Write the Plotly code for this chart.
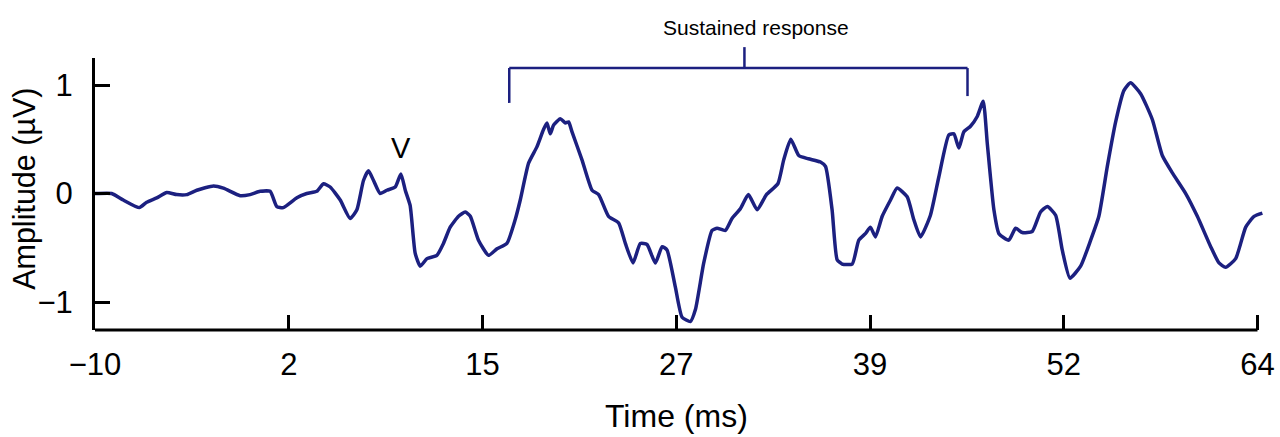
import plotly.graph_objects as go

# ---- data ----
time_ms = [-10.0, -9.89, -8.94, -8.20, -7.18, -6.71, -6.07, -5.43, -4.80, -4.16, -3.52, -2.46, -1.83,
           -0.76, -0.13, 0.51, 1.15, 1.57, 1.99, 2.85, 3.48, 4.12, 4.54, 4.97, 5.61, 6.24, 6.67,
           7.09, 7.41, 7.73, 8.15, 8.58, 9.11, 9.47, 9.75, 10.06, 10.38, 10.70, 11.13, 11.76,
           12.18, 12.61, 13.14, 13.57, 13.89, 14.41, 15.05, 15.59, 16.22, 16.75, 17.07, 17.60,
           18.13, 18.55, 18.77, 18.98, 19.19, 19.62, 19.94, 20.15, 20.36, 21.00, 21.64, 22.06,
           22.69, 23.33, 23.76, 24.25, 24.71, 25.14, 25.67, 26.10, 26.41, 26.94, 27.37, 27.90,
           28.22, 28.75, 29.28, 29.60, 30.13, 30.55, 31.08, 31.59, 32.15, 32.74, 33.47, 33.84,
           34.29, 34.80, 35.41, 36.18, 36.50, 36.92, 37.24, 37.56, 38.20, 38.62, 39.04, 39.36,
           39.68, 40.11, 40.64, 41.06, 41.70, 42.12, 42.55, 43.18, 43.71, 44.35, 44.67, 44.99,
           45.31, 45.73, 46.16, 46.54, 46.80, 47.22, 47.54, 48.17, 48.60, 49.03, 49.66, 50.19,
           50.62, 51.15, 51.57, 52.06, 52.74, 53.38, 53.90, 54.44, 54.97, 55.50, 55.92, 56.56,
           57.31, 57.94, 58.58, 59.43, 60.17, 61.02, 61.55, 61.97, 62.61, 63.25, 63.78, 64.31]
amplitude_uv = [0.00, 0.00, 0.00, -0.06, -0.13, -0.08, -0.04, 0.01, -0.01, -0.01, 0.03, 0.07, 0.05,
                -0.02, -0.01, 0.02, 0.02, -0.12, -0.13, -0.04, 0.00, 0.02, 0.09, 0.06, -0.06, -0.23, -0.15,
                0.12, 0.21, 0.12, 0.00, 0.03, 0.06, 0.18, 0.03, -0.11, -0.55, -0.67, -0.60, -0.57,
                -0.46, -0.31, -0.21, -0.17, -0.21, -0.43, -0.57, -0.51, -0.46, -0.24, -0.06, 0.28,
                0.43, 0.59, 0.65, 0.55, 0.63, 0.69, 0.65, 0.66, 0.57, 0.31, 0.03, -0.01,
                -0.21, -0.27, -0.46, -0.64, -0.46, -0.47, -0.64, -0.49, -0.52, -0.86, -1.14, -1.18,
                -1.07, -0.64, -0.34, -0.32, -0.34, -0.23, -0.14, -0.01, -0.15, -0.01, 0.09, 0.31,
                0.50, 0.35, 0.32, 0.29, 0.25, -0.15, -0.61, -0.65, -0.65, -0.43, -0.37, -0.31,
                -0.40, -0.21, -0.06, 0.05, -0.03, -0.24, -0.40, -0.20, 0.15, 0.54, 0.55, 0.42,
                0.57, 0.62, 0.71, 0.85, 0.46, -0.15, -0.37, -0.43, -0.32, -0.36, -0.35, -0.17,
                -0.12, -0.20, -0.52, -0.78, -0.67, -0.43, -0.21, 0.25, 0.66, 0.95, 1.02, 0.92,
                0.68, 0.35, 0.19, 0.00, -0.21, -0.49, -0.64, -0.68, -0.60, -0.31, -0.21, -0.18]

x_tick_vals = [-10, 2.333, 14.667, 27, 39.333, 51.667, 64]
x_tick_text = ["\u221210", "2", "15", "27", "39", "52", "64"]
y_tick_vals = [-1, 0, 1]
y_tick_text = ["\u22121", "0", "1"]

sustained_start, sustained_end, sustained_mid = 16.37, 45.54, 31.34
wave_v_time, wave_v_amp = 9.49, 0.42

LINE = "#1c2080"
FONT = "Liberation Sans, Arial, Helvetica, sans-serif"

fig = go.Figure()
fig.add_trace(go.Scatter(x=time_ms, y=amplitude_uv, mode="lines",
                         line=dict(color=LINE, width=3.5, shape="spline", smoothing=0.5),
                         hoverinfo="skip"))

fig.update_layout(
    width=1280, height=437, autosize=False,
    margin=dict(l=95, r=17, t=58, b=107, autoexpand=False),
    paper_bgcolor="white", plot_bgcolor="white",
    showlegend=False,
    font=dict(family=FONT, color="black"),
    xaxis=dict(range=[-10, 64.35], tickmode="array", tickvals=x_tick_vals, ticktext=x_tick_text,
               ticks="inside", ticklen=15, tickwidth=3, tickcolor="black", automargin=False,
               showline=False, showgrid=False, zeroline=False,
               tickfont=dict(size=31, family=FONT, color="black"), ticklabelstandoff=13),
    yaxis=dict(range=[-1.258, 1.249], tickmode="array", tickvals=y_tick_vals, ticktext=y_tick_text,
               ticks="inside", ticklen=15, tickwidth=3, tickcolor="black", automargin=False,
               showline=True, linecolor="black", linewidth=3,
               showgrid=False, zeroline=False,
               tickfont=dict(size=31, family=FONT, color="black"), ticklabelstandoff=13),
)

# x axis baseline ending at 64
fig.add_shape(type="line", xref="x", yref="paper", x0=-10, x1=64, y0=0, y1=0,
              line=dict(color="black", width=3))

# sustained-response bracket
br = dict(color=LINE, width=2.5)
fig.add_shape(type="line", xref="x", yref="paper", x0=sustained_start, x1=sustained_end,
              y0=0.963, y1=0.963, line=br)
fig.add_shape(type="line", xref="x", yref="paper", x0=sustained_start, x1=sustained_start,
              y0=0.963, y1=0.835, line=br)
fig.add_shape(type="line", xref="x", yref="paper", x0=sustained_end, x1=sustained_end,
              y0=0.963, y1=0.860, line=br)
fig.add_shape(type="line", xref="x", yref="paper", x0=sustained_mid, x1=sustained_mid,
              y0=0.963, y1=1.040, line=br)

fig.add_annotation(text="Sustained response", xref="x", yref="paper", x=32.09, y=1.113,
                   showarrow=False, font=dict(size=21, family=FONT, color="black"),
                   xanchor="center", yanchor="middle")
fig.add_annotation(text="V", xref="x", yref="y", x=wave_v_time, y=wave_v_amp,
                   showarrow=False, font=dict(size=29, family=FONT, color="black"),
                   xanchor="center", yanchor="middle")
fig.add_annotation(text="Time (ms)", xref="paper", yref="paper", x=0.4976, y=-0.315,
                   showarrow=False, font=dict(size=32, family=FONT, color="black"),
                   xanchor="center", yanchor="middle")
fig.add_annotation(text="Amplitude (\u00b5V)", xref="paper", yref="paper", x=-0.061, y=0.518,
                   textangle=-90, showarrow=False, font=dict(size=30.5, family=FONT, color="black"),
                   xanchor="center", yanchor="middle")

fig.write_html("out.html",
               config={"displayModeBar": False, "responsive": False},
               post_script="document.body.style.margin='0';document.body.style.overflow='hidden';")
